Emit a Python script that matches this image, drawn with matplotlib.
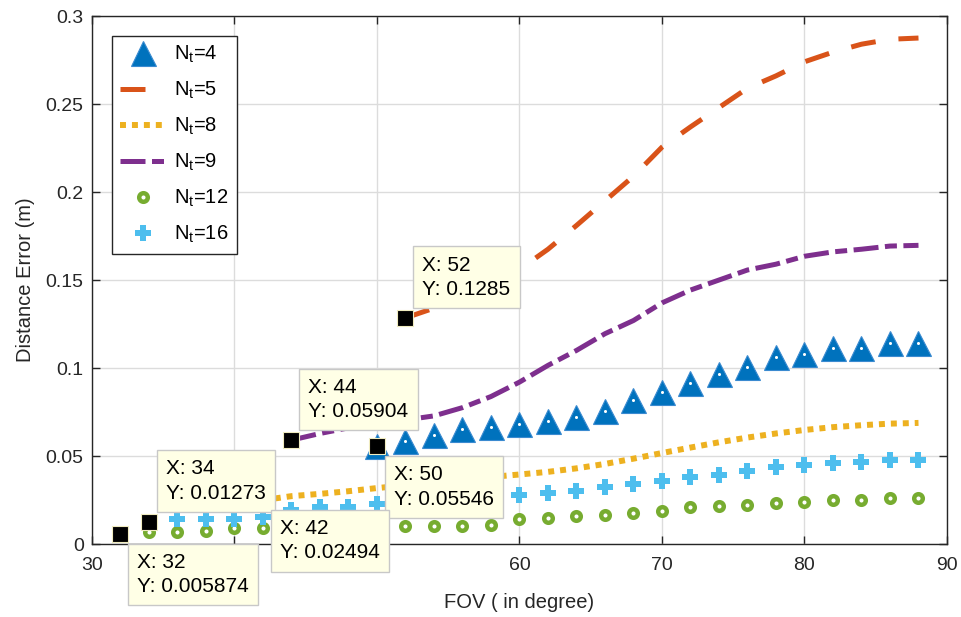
import matplotlib
matplotlib.use("Agg")
import matplotlib.pyplot as plt
import numpy as np

plt.rcParams['font.family'] = ['Liberation Sans', 'DejaVu Sans']

# data (FOV in degree, distance error in m)
fov_nt4 = np.arange(50, 89, 2)
err_nt4 = [0.05546, 0.0585, 0.0617, 0.0655, 0.0665, 0.0680, 0.0700, 0.0720, 0.0758,
           0.0818, 0.0864, 0.0915, 0.0966, 0.1006, 0.1063, 0.1080, 0.1114, 0.1114,
           0.1142, 0.1142]

fov_nt5 = np.arange(52, 89, 2)
err_nt5 = [0.1285, 0.134, 0.140, 0.147, 0.156, 0.1675, 0.181, 0.195, 0.209, 0.2255,
           0.237, 0.248, 0.259, 0.266, 0.274, 0.2795, 0.284, 0.2868, 0.2875]

fov_nt8 = np.arange(42, 89, 2)
err_nt8 = [0.02494, 0.0272, 0.0285, 0.0300, 0.0318, 0.0333, 0.0350, 0.0365, 0.0381,
           0.0395, 0.0410, 0.0430, 0.0455, 0.0485, 0.0517, 0.0548, 0.0578, 0.0605,
           0.0628, 0.0648, 0.0664, 0.0675, 0.0684, 0.0688]

fov_nt9 = np.arange(44, 89, 2)
err_nt9 = [0.05904, 0.0628, 0.0660, 0.0690, 0.0705, 0.0728, 0.0775, 0.0838, 0.0920,
           0.1015, 0.1100, 0.1195, 0.1270, 0.1370, 0.1443, 0.1500, 0.1557, 0.1590,
           0.1635, 0.1660, 0.1675, 0.1693, 0.1697]

fov_nt12 = np.arange(32, 89, 2)
err_nt12 = [0.005874, 0.0068, 0.0068, 0.0074, 0.0090, 0.0090, 0.0092, 0.0094, 0.0096,
            0.0098, 0.0100, 0.0100, 0.0102, 0.0108, 0.0142, 0.0148, 0.0160, 0.0165,
            0.0176, 0.0188, 0.0210, 0.0216, 0.0222, 0.0233, 0.0239, 0.0250, 0.0250,
            0.0261, 0.0261]

fov_nt16 = np.arange(34, 89, 2)
err_nt16 = [0.01273, 0.0142, 0.0142, 0.0142, 0.0153, 0.0193, 0.0210, 0.0210, 0.0227,
            0.0235, 0.0245, 0.0255, 0.0267, 0.0278, 0.0290, 0.0301, 0.0324, 0.0340,
            0.0358, 0.0380, 0.0390, 0.0415, 0.0437, 0.0449, 0.0460, 0.0466, 0.0477,
            0.0477]

# data tips: (x, y, placement)
tips_x = [52, 44, 50, 34, 42, 32]
tips_y = [0.1285, 0.05904, 0.05546, 0.01273, 0.02494, 0.005874]
tips_up = [True, True, False, True, False, False]

c_blue = '#0072BD'
c_red = '#D95319'
c_yel = '#EDB120'
c_pur = '#7E2F8E'
c_grn = '#77AC30'
c_cyan = '#4DBEEE'

fig = plt.figure(figsize=(9.62, 6.17), dpi=100)
ax = fig.add_axes([0.0956, 0.1183, 0.8888, 0.8557])

ax.plot(fov_nt4, err_nt4, linestyle='none', marker='^', ms=18, color=c_blue,
        mec='#3a8ad0', mew=0.8, label='N$_\\mathregular{t}$=4', zorder=3)
ax.plot(fov_nt4, err_nt4, linestyle='none', marker='o', ms=2.2, color='white',
        mew=0, zorder=3.1)
l5, = ax.plot(fov_nt5, err_nt5, color=c_red, lw=3.6, solid_capstyle='butt',
              label='N$_\\mathregular{t}$=5', zorder=3)
l5.set_dashes([5.0, 4.6])
l8, = ax.plot(fov_nt8, err_nt8, color=c_yel, lw=4.3, label='N$_\\mathregular{t}$=8',
              zorder=3)
l8.set_dashes([1.0, 1.0])
l9, = ax.plot(fov_nt9, err_nt9, color=c_pur, lw=3.6, label='N$_\\mathregular{t}$=9',
              zorder=3)
l9.set_dashes([5.0, 1.3, 2.4, 1.3])
ax.plot(fov_nt12, err_nt12, linestyle='none', marker='o', ms=6.2, mfc='white',
        mec=c_grn, mew=3.2, label='N$_\\mathregular{t}$=12', zorder=3)
ax.plot(fov_nt16, err_nt16, linestyle='none', marker='P', ms=12, color=c_cyan,
        mew=0, label='N$_\\mathregular{t}$=16', zorder=3)

# data tip markers and boxes
ax.plot(tips_x, tips_y, linestyle='none', marker='s', ms=11.5, color='black',
        mec='#f0ecc0', mew=0.8, zorder=5)
for x, y, up in zip(tips_x, tips_y, tips_up):
    txt = 'X: %g\nY: %s' % (x, ('%.4g' % y))
    off = (17, 19) if up else (17, -19)
    ax.annotate(txt, (x, y), xytext=off, textcoords='offset pixels',
                ha='left', va='bottom' if up else 'top', fontsize=15,
                linespacing=1.35, color='black', zorder=6,
                bbox=dict(boxstyle='square,pad=0.44', fc='#ffffe6', ec='#c8c8c8',
                          lw=1.0))

ax.set_xlim(30, 90)
ax.set_ylim(0, 0.3)
ax.set_xticks(np.arange(30, 91, 10))
ax.set_yticks(np.arange(0, 0.31, 0.05))
ax.set_yticklabels(['0', '0.05', '0.1', '0.15', '0.2', '0.25', '0.3'])
ax.grid(True, color='#dcdcdc', linewidth=1.0)
ax.set_axisbelow(True)
ax.tick_params(direction='in', top=True, right=True, labelsize=14, length=6,
               width=1.0, pad=6, colors='#262626')
ax.tick_params(axis='x', pad=9)
for s in ax.spines.values():
    s.set_color('#262626')
    s.set_linewidth(1.0)

ax.set_xlabel('FOV ( in degree)', fontsize=14.5, color='#262626', labelpad=14)
ax.set_ylabel('Distance Error (m)', fontsize=14.5, color='#262626', labelpad=8)

leg = ax.legend(loc='upper left', bbox_to_anchor=(0.0235, 0.962), fontsize=14.5,
                handlelength=2.3, labelspacing=0.73, borderpad=0.4,
                borderaxespad=0, handletextpad=0.4, fancybox=False, framealpha=1,
                edgecolor='#262626')
leg.get_frame().set_linewidth(1.0)
leg.set_zorder(7)

fig.savefig('out.png', dpi=100)
